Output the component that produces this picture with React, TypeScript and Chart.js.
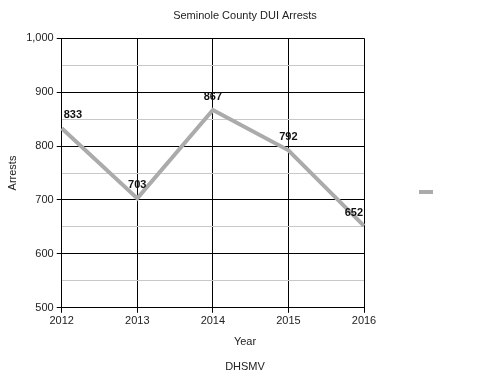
import React, { useEffect, useRef } from "react";
import { Chart, registerables } from "chart.js";

Chart.register(...registerables);

const years = ["2012", "2013", "2014", "2015", "2016"];
const arrests = [833, 703, 867, 792, 652];
const yMin = 500;
const yMax = 1000;
const yStep = 50;
const chartTitle = "Seminole County DUI Arrests";
const xTitle = "Year";
const sourceNote = "DHSMV";
const yTitle = "Arrests";

const FONT = "'Liberation Sans', Arial, sans-serif";

const valueLabels = {
  id: "valueLabels",
  afterDatasetsDraw(chart: any) {
    const { ctx, chartArea } = chart;
    const meta = chart.getDatasetMeta(0);
    const data = chart.data.datasets[0].data as number[];
    ctx.save();
    ctx.font = `bold 11px ${FONT}`;
    ctx.fillStyle = "#111";
    ctx.textBaseline = "middle";
    ctx.textAlign = "left";
    meta.data.forEach((pt: any, i: number) => {
      const txt = String(data[i]);
      const w = ctx.measureText(txt).width;
      let x = pt.x - w / 2;
      x = Math.max(chartArea.left + 2, Math.min(chartArea.right - 1 - w, x));
      ctx.fillText(txt, x, pt.y - 13);
    });
    ctx.restore();
  },
};

export default function App() {
  const ref = useRef<HTMLCanvasElement>(null);
  useEffect(() => {
    if (!ref.current) return;
    const chart = new Chart(ref.current, {
      type: "line",
      data: {
        labels: years,
        datasets: [
          {
            label: "",
            data: arrests,
            borderColor: "#ababab",
            backgroundColor: "#ababab",
            borderWidth: 4,
            pointRadius: 0,
            tension: 0,
          },
        ],
      },
      options: {
        animation: false,
        responsive: true,
        maintainAspectRatio: false,
        layout: { padding: { left: 7, right: 7, top: 5, bottom: -1 } },
        plugins: {
          title: {
            display: true,
            text: chartTitle,
            color: "#222",
            font: { family: FONT, size: 11, weight: "normal" },
            padding: { top: 4, bottom: 16 },
          },
          subtitle: {
            display: true,
            position: "bottom",
            text: [xTitle, sourceNote],
            color: "#222",
            font: { family: FONT, size: 11, weight: "normal", lineHeight: 25 / 11 },
            padding: { top: -1, bottom: 0 },
          },
          legend: {
            display: true,
            position: "right",
            labels: {
              boxWidth: 14,
              boxHeight: 4,
              padding: 55,
              font: { family: FONT, size: 100 },
              generateLabels: (c: any) =>
                Chart.defaults.plugins.legend.labels
                  .generateLabels(c)
                  .map((l: any) => ({ ...l, lineWidth: 0 })),
            },
          },
          tooltip: { enabled: false },
        },
        scales: {
          x: {
            offset: false,
            grid: { color: "#000", tickColor: "#000", tickLength: 5, lineWidth: 1 },
            border: { color: "#000" },
            ticks: { color: "#222", font: { family: FONT, size: 11 }, padding: 2, maxRotation: 0 },
          },
          y: {
            min: yMin,
            max: yMax,
            grid: {
              color: (c: any) => (c.tick && c.tick.value % 100 === 0 ? "#000" : "#c8c8c8"),
              tickColor: (c: any) => (c.tick && c.tick.value % 100 === 0 ? "#000" : "rgba(0,0,0,0)"),
              tickLength: 5,
            },
            border: { color: "#000" },
            ticks: {
              stepSize: yStep,
              autoSkip: false,
              color: "#222",
              font: { family: FONT, size: 11 },
              padding: 3,
              callback: (v: any) => (Number(v) % 100 === 0 ? Number(v).toLocaleString("en-US") : ""),
            },
            title: {
              display: true,
              text: yTitle,
              color: "#222",
              font: { family: FONT, size: 11 },
              padding: { top: -1, bottom: 4 },
            },
          },
        },
      },
      plugins: [valueLabels],
    });
    return () => chart.destroy();
  }, []);
  return (
    <div style={{ position: "absolute", left: 0, top: 0, width: 490, height: 378, background: "#fff" }}>
      <canvas ref={ref} />
    </div>
  );
}
